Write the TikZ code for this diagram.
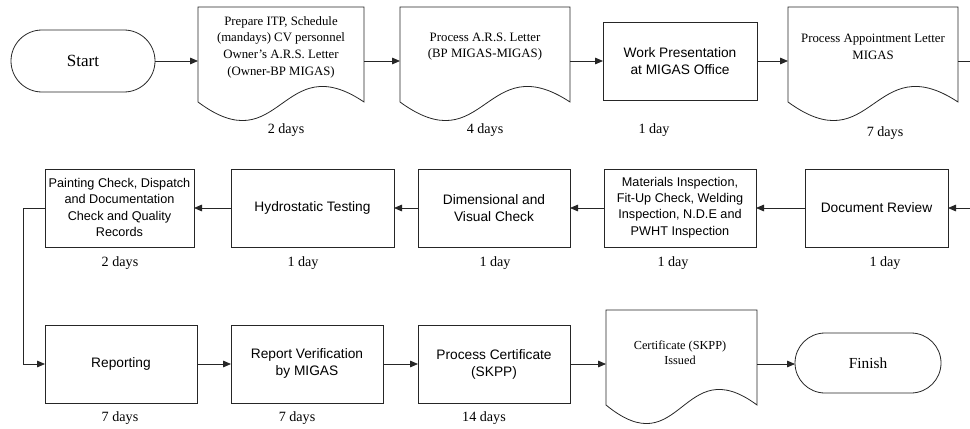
\documentclass[tikz,border=0pt]{standalone}
\usepackage{fontspec}
\setmainfont{Liberation Serif}
\setsansfont{Liberation Sans}
\usetikzlibrary{arrows.meta,calc}
\newcommand\docshape[1]{%
  \draw[shpline] (#1.south west) -- (#1.north west) -- (#1.north east) -- (#1.south east)
    .. controls ($(#1.south)+(0,-56)$) and ($(#1.south)+(0,62)$) .. (#1.south west) -- cycle;}
\begin{document}
\begin{tikzpicture}[x=0.75pt,y=-0.75pt,
  shpline/.style={draw=black!85, line width=0.6pt},
  bx/.style args={#1/#2}{shpline, rectangle, inner sep=0pt, outer sep=0pt,
     minimum width=#1*0.75pt, minimum height=#2*0.75pt},
  stad/.style args={#1/#2}{bx={#1/#2}, rounded corners=#2*0.375pt},
  docn/.style args={#1/#2}{rectangle, inner sep=0pt, outer sep=0pt,
     minimum width=#1*0.75pt, minimum height=#2*0.75pt},
  sftxt/.style={font=\sffamily\fontsize{10.3}{12.7}\selectfont, align=center, inner sep=0pt},
  sfsm/.style={font=\sffamily\fontsize{9.5}{12.2}\selectfont, align=center, inner sep=0pt},
  srtxt/.style={font=\fontsize{9.6}{12.5}\selectfont, align=center, inner sep=0pt},
  daylbl/.style={font=\fontsize{10.6}{12}\selectfont, inner sep=0pt},
  arr/.style={draw=black!85, line width=0.6pt, -{Triangle[length=6pt,width=5pt]}},
  ln/.style={draw=black!85, line width=0.6pt}]
\useasboundingbox (0,0) rectangle (970,428);

% ---- Row 1
\node[stad={144/62}] (start) at (83,61) {};
\node[font=\fontsize{12.8}{14}\selectfont, inner sep=0pt] (startt) at (83,61) {Start};

\node[docn={166/95}] (d1) at (281,54.5) {};
\docshape{d1}
\node[srtxt] (d1t) at (281,47) {Prepare ITP, Schedule\\(mandays) CV personnel\\Owner's A.R.S. Letter\\(Owner-BP MIGAS)};

\node[docn={170/95}] (d2) at (485,54.5) {};
\docshape{d2}
\node[srtxt] (d2t) at (485,46.5) {Process A.R.S. Letter\\(BP MIGAS-MIGAS)};

\node[bx={154/78}] (b3) at (680,61) {};
\node[sftxt] (b3t) at (680,61.5) {Work Presentation\\at MIGAS Office};

\node[docn={170/95}] (d4) at (873,54.5) {};
\docshape{d4}
\node[srtxt] (d4t) at (873,46.5) {Process Appointment Letter\\MIGAS};

\coordinate (r1) at (970,61);

\node[daylbl] (l1) at (286,130) {2 days};
\node[daylbl] (l2) at (485,130) {4 days};
\node[daylbl] (l3) at (654,130) {1 day};
\node[daylbl] (l4) at (885,133) {7 days};

\draw[arr] (start.east) -- (start.east -| d1.west);
\draw[arr] (start.east -| d1.east) -- (start.east -| d2.west);
\draw[arr] (start.east -| d2.east) -- (b3.west);
\draw[arr] (b3.east) -- (b3.east -| d4.west);
\draw[ln] (r1 -| d4.east) -- (r1);

% ---- Row 2
\node[bx={149/78}] (paint) at (119.5,208) {};
\node[sfsm] (paintt) at (119.5,207.5) {Painting Check, Dispatch\\and Documentation\\Check and Quality\\Records};
\node[bx={163/78}] (hydro) at (312.5,208) {};
\node[sftxt] (hydrot) at (312.5,208) {Hydrostatic Testing};
\node[bx={152/78}] (dim) at (494,208) {};
\node[sftxt] (dimt) at (494,208) {Dimensional and\\Visual Check};
\node[bx={152/78}] (mat) at (680,208) {};
\node[sfsm] (matt) at (680,207.5) {Materials Inspection,\\Fit-Up Check, Welding\\Inspection, N.D.E and\\PWHT Inspection};
\node[bx={143/78}] (drev) at (876.5,208) {};
\node[sftxt] (drevt) at (876.5,208) {Document Review};
\coordinate (r2) at (970,208);

\node[daylbl] (l5) at (120,263) {2 days};
\node[daylbl] (l6) at (303,263) {1 day};
\node[daylbl] (l7) at (495,263) {1 day};
\node[daylbl] (l8) at (673,263) {1 day};
\node[daylbl] (l9) at (885,263) {1 day};

\draw[arr] (r2) -- (drev.east);
\draw[arr] (drev.west) -- (mat.east);
\draw[arr] (mat.west) -- (dim.east);
\draw[arr] (dim.west) -- (hydro.east);
\draw[arr] (hydro.west) -- (paint.east);

% ---- Row 3
\node[bx={152/78}] (rep) at (121,364) {};
\node[sftxt] (rept) at (121,364) {Reporting};
\node[bx={152/78}] (ver) at (307,364) {};
\node[sftxt] (vert) at (307,363.5) {Report Verification\\by MIGAS};
\node[bx={152/78}] (proc) at (494,364) {};
\node[sftxt] (proct) at (494,364) {Process Certificate\\(SKPP)};
\node[docn={151/95}] (cert) at (681.5,357.5) {};
\docshape{cert}
\node[font=\fontsize{9.2}{11.3}\selectfont, align=center, inner sep=0pt] (certt) at (680,352.5) {Certificate (SKPP)\\Issued};
\node[stad={146/60}] (fin) at (868,363) {};
\node[font=\fontsize{11.5}{13}\selectfont, inner sep=0pt] (fint) at (868,363) {Finish};

\node[daylbl] (l10) at (120,418) {7 days};
\node[daylbl] (l11) at (297,418) {7 days};
\node[daylbl] (l12) at (484,418) {14 days};

\coordinate (lp) at (23,208);
\draw[arr] (paint.west) -- (lp) |- (rep.west);
\draw[arr] (rep.east) -- (ver.west);
\draw[arr] (ver.east) -- (proc.west);
\draw[arr] (proc.east) -- (proc.east -| cert.west);
\draw[arr] (proc.east -| cert.east) -- (proc.east -| fin.west);
\end{tikzpicture}
\end{document}
